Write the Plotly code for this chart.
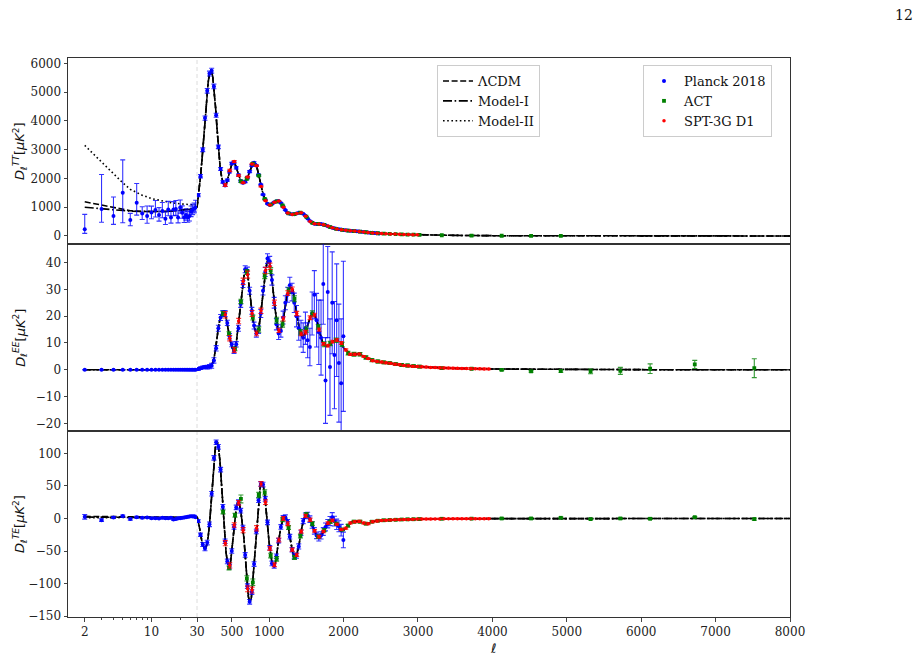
import plotly.graph_objects as go
from plotly.subplots import make_subplots

# ---------------- theory curves ----------------
ell_th_low = [2, 3, 4, 5, 6, 8, 10, 13, 16, 20, 25, 30]
tt_lcdm_low = [1190, 1075, 985, 930, 880, 850, 845, 850, 860, 885, 930, 990]
tt_model1_low = [1000, 960, 915, 885, 860, 848, 845, 850, 860, 885, 930, 990]
tt_model2_low = [3150, 2580, 2150, 1850, 1620, 1420, 1300, 1210, 1160, 1120, 1090, 1070]
ee_lcdm_low = [0.03, 0.035, 0.035, 0.03, 0.025, 0.02, 0.015, 0.01, 0.01, 0.015, 0.03, 0.05]
ee_model1_low = [0.03, 0.035, 0.035, 0.03, 0.025, 0.02, 0.015, 0.01, 0.01, 0.015, 0.03, 0.05]
ee_model2_low = [0.03, 0.035, 0.035, 0.03, 0.025, 0.02, 0.015, 0.01, 0.01, 0.015, 0.03, 0.05]
te_lcdm_low = [3.2, 3.0, 2.7, 2.4, 2.1, 1.6, 1.3, 1.2, 1.4, 1.9, 2.6, 2.5]
te_model1_low = [2.2, 2.3, 2.3, 2.2, 2.0, 1.6, 1.3, 1.2, 1.4, 1.9, 2.6, 2.5]
te_model2_low = [1.0, 1.4, 1.7, 1.8, 1.8, 1.6, 1.3, 1.2, 1.4, 1.9, 2.6, 2.5]

ell_th_high = [30, 40, 60, 80, 100, 120, 140, 160, 180, 200, 220, 240,
               260, 280, 300, 320, 340, 360, 380, 400, 420, 440,
               460, 480, 500, 520, 540, 560, 580, 600, 620, 640,
               660, 680, 700, 720, 740, 760, 780, 800, 820, 840,
               860, 880, 900, 920, 940, 960, 980, 1000,
               1040, 1080, 1120, 1160, 1200, 1240, 1280, 1320, 1360, 1400, 1440, 1480, 1520,
               1560, 1600, 1640, 1680, 1720, 1760, 1800, 1840, 1880, 1920, 1960, 2000,
               2100, 2200, 2300, 2400, 2500, 2600, 2800, 3000, 3250, 3500, 4000, 4500,
               5000, 6000, 7000, 8000]
tt_th_high = [990, 1200,
              1650, 2150, 2750, 3450, 4200, 4850, 5350, 5680, 5790, 5560,
              5100, 4450, 3700, 3000, 2420, 2060, 1850, 1760, 1790, 1960,
              2170, 2390, 2520, 2580, 2510, 2360, 2180, 2010, 1900, 1850,
              1855, 1900, 1980, 2110, 2270, 2420, 2520, 2560, 2500, 2340,
              2110, 1850, 1610, 1430, 1290, 1180, 1110, 1080,
              1110, 1190, 1225, 1150, 970, 820, 765, 752, 775, 805, 795, 720, 600,
              490, 435, 418, 420, 405, 370, 330, 292, 263, 242, 224, 210,
              182, 158, 130, 106, 90, 77, 56, 42, 30, 21, 11, 6.5,
              4, 1.8, 0.9, 0.5]
ee_th_high = [0.05, 0.2,
              0.45, 0.7, 0.9, 1.05, 1.15, 1.1, 1.05, 1.15, 1.5, 2.6,
              4.5, 8, 12.5, 16.3, 19, 20.6, 21.3, 21, 19.3, 16,
              13, 10.6, 8.3, 7.2, 7.6, 10.6, 15.5, 21, 26, 31,
              34.7, 37.2, 37.2, 33.5, 28.5, 23.5, 19, 16, 14, 13.2,
              15.5, 19.5, 24.5, 30, 35, 38.5, 40.8, 40.5,
              33, 22.5, 14.8, 14.5, 20.6, 27.8, 31, 29.7, 22.8, 16, 12.5, 13.2, 17,
              20.2, 21, 18.6, 13.8, 10, 8.7, 9.1, 10.3, 11, 11.1, 10.4, 8.2,
              5.6, 6, 4.6, 3.3, 2.9, 2.5, 1.7, 1.2, 0.8, 0.55, 0.3, 0.2,
              0.1, 0.05, 0.02, 0.01]
te_th_high = [2.5, -1,
              -12, -27, -38, -44, -46, -41, -28, -6, 25, 64,
              97, 114, 119, 108, 86, 52, 12, -25, -52, -68,
              -75, -68, -47, -22, 3, 19, 25, 22, 10, -6,
              -30, -60, -95, -120, -129, -122, -95, -66, -32, 2,
              32, 50, 56, 51, 36, 14, -10, -38,
              -70, -71, -40, -11, 3, -1, -30, -54, -60, -41, -13, 3, 5,
              -4, -17, -26, -29, -22, -12, -6, -3, -5, -11, -17, -18,
              -6, -4, -8.5, -4.5, -3, -2.5, -1.5, -1, -0.7, -0.5, -0.3, -0.2,
              -0.1, 0, 0, 0]

# ---------------- Planck 2018 ----------------
ell_planck_low = [2, 3, 4, 5, 6, 7, 8, 9, 10, 11, 12, 13, 14, 15, 16, 17, 18, 19, 20,
                  21, 22, 23, 24, 25, 26, 27, 28, 29]
tt_planck_low = [231, 936, 694, 1503, 555, 1156, 786, 694, 820, 902, 728, 867, 601, 925,
                 647, 925, 936, 647, 994, 809, 647, 728, 647, 694, 844, 902, 960, 994]
tt_planck_low_up = [520, 1200, 660, 1145, 230, 670, 230, 350, 220, 330, 260, 300, 240, 280,
                    250, 270, 300, 230, 260, 240, 220, 220, 210, 210, 200, 200, 190, 250]
tt_planck_low_dn = [140, 460, 290, 1040, 200, 430, 210, 250, 220, 240, 210, 230, 200, 220,
                    200, 220, 220, 190, 200, 190, 180, 180, 170, 170, 170, 160, 160, 160]
ee_planck_low = [0.04, 0.02, 0.01, 0.02, 0.03, 0.01, 0.02, 0.01, 0.0, 0.01, 0.02, 0.01, 0.0, 0.01,
                 0.02, 0.01, 0.02, 0.01, 0.0, 0.01, 0.02, 0.01, 0.02, 0.03, 0.02, 0.02, 0.03, 0.04]
ee_planck_low_err = [0.05, 0.04, 0.04, 0.04, 0.04, 0.04, 0.04, 0.04, 0.04, 0.04, 0.04, 0.04, 0.04, 0.04,
                     0.04, 0.04, 0.04, 0.04, 0.04, 0.04, 0.04, 0.04, 0.04, 0.04, 0.04, 0.04, 0.04, 0.04]
te_planck_low = [2.6, -2.6, 1.5, 3.6, -1.0, 2.0, 1.0, 1.5, 0.5, 0.5, 0.0, 1.0, 0.5, 0.5,
                 1.0, -1.5, -1.0, 0.5, 0.5, 1.0, 1.5, 2.0, 2.5, 3.0, 3.5, 3.0, 3.5, 2.0]
te_planck_low_err = [3.6, 2.0, 1.5, 1.5, 1.5, 1.5, 1.5, 1.2, 1.2, 1.2, 1.2, 1.2, 1.2, 1.2,
                     1.2, 1.2, 1.2, 1.2, 1.2, 1.2, 1.2, 1.2, 1.2, 1.2, 1.2, 1.2, 1.2, 1.2]

ell_planck = [47, 77, 107, 137, 167, 197, 227, 257, 287, 317, 347, 377, 407,
              437, 467, 497, 527, 557, 587, 617, 647, 677, 707, 737, 767, 797, 827, 857,
              887, 917, 947, 977, 1007,
              1037, 1067, 1097, 1127, 1157, 1187, 1217, 1247, 1277, 1307, 1337, 1367, 1397,
              1427, 1457, 1487, 1517, 1547, 1577, 1607,
              1637, 1667, 1697, 1727, 1757, 1787, 1817, 1847, 1877, 1907, 1937, 1967, 1997,
              2027, 2057, 2087, 2117, 2147, 2177, 2207, 2237, 2267, 2297, 2327, 2357, 2387,
              2417, 2447, 2477]
tt_planck = [1420, 2080, 3000, 4100, 5050, 5650, 5750, 5200, 4200, 3100, 2330, 1880, 1760,
             1940, 2230, 2520, 2560, 2370, 2120, 1910, 1850, 1890, 2030, 2240, 2450, 2550, 2450, 2130,
             1790, 1440, 1260, 1120, 1080,
             1110, 1170, 1210, 1215, 1150, 1020, 900, 800, 770, 755, 760, 780, 805,
             800, 770, 700, 610, 520, 465, 430,
             420, 420, 415, 400, 372, 340, 310, 287, 265, 248, 234, 222, 211,
             202, 194, 186, 178, 171, 164, 156, 148, 139, 131, 124, 116, 109,
             101, 95, 90]
tt_planck_err = [55, 60, 65, 75, 80, 85, 85, 80, 70, 60, 50, 42, 38,
                 36, 38, 40, 40, 38, 35, 33, 32, 33, 35, 35, 33, 30, 26, 22,
                 20, 18, 17, 16, 16,
                 16, 16, 16, 15, 14, 13, 12, 11, 11, 11, 11, 11, 10,
                 10, 9, 9, 8, 8, 8, 8,
                 8, 8, 8, 8, 7, 7, 7, 7, 7, 7, 7, 7, 7,
                 7, 7, 7, 7, 7, 7, 7, 7, 7, 7, 8, 8, 8,
                 8, 9, 9]
ell_planck_pol = ell_planck[:66]
ee_planck = [0.3, 0.6, 0.9, 1.0, 1.0, 1.2, 1.5, 3.5, 8, 15.5, 19.5, 21,
             21, 17.5, 12.5, 9.5, 7, 9.5, 15.5, 24.5, 32, 37.5, 37, 29.5, 22,
             16.5, 13.5, 15, 21, 29.5, 36.5, 41.5, 40.5, 33.5, 25, 17, 13.5, 14.5,
             19.5, 25, 28, 31.5, 29, 25, 20, 15.5, 13.5, 12, 15.5,
             11, 8.5, 21, 28, 18.5, 14, 12, 32, -4, 29, 1, 25, 5.5, 18.5, 2.5, -5, 12.5]
ee_planck_err = [0.5, 0.5, 0.5, 0.6, 0.7, 0.8, 0.9, 1.0, 1.0, 1.1, 1.1, 1.1,
                 1.1, 1.0, 1.0, 0.9, 0.9, 1.0, 1.1, 1.2, 1.3, 1.3, 1.3, 1.3, 1.3,
                 1.3, 1.3, 1.4, 1.5, 1.6, 1.7, 1.8, 1.8, 1.9, 2.0, 2.1, 2.2, 2.3,
                 2.4, 2.6, 2.8, 3.0, 3.3, 3.6, 4.0, 4.5, 5, 5.5, 6,
                 6.5, 7, 8, 9, 10, 12, 14, 15, 16, 17, 18, 19, 20, 21, 22, 24, 28]
te_planck = [-4, -25, -40, -46, -37, -9, 38, 93, 117, 110, 75, 18,
             -35, -66, -74, -50, -13, 17, 25, 12, -14, -56, -104, -128, -113,
             -70, -20, 28, 53, 52, 30, -6, -45, -69, -73, -58, -34, -13,
             1, 2, -5, -28, -48, -58, -57, -43, -22, -4, 4,
             5, -1, -10, -19, -26, -29, -26, -20, -13, -8, -4, 2, -4, -9, -12, -18, -33]
te_planck_err = [2, 2.5, 3, 3.5, 3.5, 3.5, 3.5, 3.5, 3.5, 3.5, 3.5, 3.5,
                 3.5, 3.5, 3.5, 3.5, 3.5, 3.5, 3.5, 3.5, 3.5, 3.5, 3.5, 3.5, 3.5,
                 3.5, 3.5, 3.5, 3.5, 3.5, 3.5, 3.5, 3.5, 3.5, 3.5, 3.5, 3.5, 3.5,
                 3.5, 3.5, 3.5, 3.5, 3.5, 4, 4, 4, 4, 4, 4.5,
                 4.5, 5, 5, 5, 5, 5.5, 5.5, 6, 6, 6.5, 7, 7, 7.5, 8, 8.5, 9, 12]

# ---------------- ACT ----------------
ell_act_tt = [620, 700, 780, 860, 940, 1020, 1100, 1180, 1260, 1340, 1420, 1500, 1580, 1660,
              1740, 1820, 1900, 1980, 2060, 2140, 2220, 2300, 2380, 2460, 2540, 2620, 2700,
              2780, 2860, 2940, 3020, 3320, 3720, 4125, 4520, 4920]
tt_act = [1900, 1990, 2520, 2100, 1290, 1090, 1200, 1060, 790, 760, 810, 670, 455, 420,
          385, 310, 250, 215, 190, 170, 152, 130, 110, 95, 85, 75, 66,
          58, 51, 45, 40, 26, 15, 9, 7, 4]
tt_act_err = [40, 35, 30, 28, 22, 18, 16, 14, 12, 11, 10, 9, 8, 8,
              7, 7, 6, 6, 6, 6, 6, 5, 5, 5, 5, 5, 5,
              5, 5, 5, 5, 5, 6, 7, 8, 9]
ell_act_pol = [380, 460, 540, 620, 700, 780, 860, 940, 1020, 1100, 1180, 1260, 1340, 1420,
               1500, 1580, 1660, 1740, 1820, 1900, 1980, 2060, 2140, 2220, 2300, 2380, 2460,
               2540, 2620, 2700, 2780, 2860, 2940, 3020,
               3320, 3720, 4125, 4520, 4920, 5320, 5720, 6120, 6720, 7520]
ee_act = [21, 13.5, 7.8, 25.5, 36.5, 19.5, 15, 35, 37, 18.5, 17, 29.5, 26.5, 14,
          15, 21, 16, 9.5, 9.8, 11, 9.5, 6.2, 5.8, 5.8, 4.6, 3.6, 3.1,
          2.8, 2.5, 2.1, 1.8, 1.6, 1.4, 1.2,
          0.6, 0.4, 0.0, -0.6, -0.5, -0.6, -0.4, 0.4, 2.0, 0.6]
ee_act_err = [0.8, 0.7, 0.7, 0.8, 0.9, 0.9, 1.0, 1.0, 1.1, 1.1, 1.1, 1.1, 1.1, 1.0,
              1.0, 1.0, 0.9, 0.9, 0.8, 0.8, 0.8, 0.7, 0.7, 0.6, 0.6, 0.6, 0.5,
              0.5, 0.5, 0.5, 0.5, 0.5, 0.5, 0.5,
              0.4, 0.4, 0.3, 0.3, 0.4, 0.9, 1.3, 1.8, 1.5, 3.5]
te_act = [10, -76, 5, 30, -92, -98, 36, 40, -57, -62, -2, -14, -60, -27,
          6, -8, -28, -18, -5, -8, -17, -11, -5, -5, -8, -5, -3.5,
          -2.8, -2.4, -2, -1.6, -1.4, -1.2, -1,
          -0.5, -0.3, 0, 0, 1, -1, 0, -0.5, 2, -1]
te_act_err = [3, 3, 3, 6, 4, 5, 4, 4, 3.5, 3.5, 3, 3, 3, 3,
              3, 3, 2.5, 2.5, 2.5, 2, 2, 2, 2, 2, 1.5, 1.5, 1.5,
              1.5, 1.5, 1.5, 1.5, 1.5, 1.5, 1.5,
              1, 1, 1, 1, 1, 1, 1, 1, 1, 1.5]

# ---------------- SPT-3G D1 ----------------
ell_spt_tt = [410, 470, 530, 590, 650, 710, 770, 830, 890, 950,
              1010, 1070, 1130, 1190, 1250, 1310, 1370, 1430, 1490, 1550,
              1610, 1670, 1730, 1790, 1850, 1910, 1970, 2030, 2090, 2150,
              2210, 2270, 2330, 2390, 2450, 2510, 2570, 2630, 2690, 2750,
              2810, 2870, 2930, 2990]
tt_spt = [1770, 2280, 2590, 2100, 1850, 2050, 2500, 2440, 1720, 1230,
          1080, 1170, 1215, 1000, 800, 750, 785, 805, 690, 500,
          428, 420, 395, 345, 285, 245, 220, 200, 183, 170,
          154, 138, 122, 107, 95, 87, 78, 72, 66, 60,
          54, 49, 44, 40]
tt_spt_err = [45, 40, 35, 30, 25, 22, 20, 18, 16, 14,
              12, 11, 10, 10, 9, 8, 8, 7, 7, 7,
              6, 6, 6, 6, 6, 5, 5, 5, 5, 5,
              5, 5, 5, 5, 5, 5, 5, 5, 5, 5,
              5, 5, 5, 5]
ell_spt_pol = [410, 470, 530, 590, 650, 710, 770, 830, 890, 950,
               1010, 1070, 1130, 1190, 1250, 1310, 1370, 1430, 1490, 1550,
               1610, 1670, 1730, 1790, 1850, 1910, 1970, 2030, 2090, 2150,
               2210, 2270, 2330, 2390, 2450, 2510, 2570, 2630, 2690, 2750,
               2810, 2870, 2930, 2990, 3050, 3110, 3170, 3230, 3290, 3350,
               3410, 3470, 3530, 3590, 3650, 3710, 3770, 3830, 3890, 3950]
ee_spt = [20.5, 11.8, 7.4, 18.2, 33, 35.5, 21, 13.6, 22, 37,
          38.6, 25, 14.7, 19, 28.6, 30, 21, 13.4, 14, 19.4,
          20.4, 15, 9.7, 9, 10.5, 11.1, 10, 7.4, 5.8, 5.8,
          5.9, 5, 4.2, 3.4, 3.1, 2.9, 2.6, 2.4, 2.1, 1.9,
          1.6, 1.5, 1.3, 1.2, 1.1, 1.0, 0.9, 0.85, 0.75, 0.7,
          0.65, 0.6, 0.55, 0.5, 0.46, 0.43, 0.4, 0.37, 0.34, 0.3]
ee_spt_err = [1.2, 1.0, 0.9, 1.0, 1.2, 1.3, 1.1, 0.9, 1.0, 1.2,
              1.2, 1.0, 0.8, 0.8, 0.9, 0.9, 0.8, 0.7, 0.7, 0.7,
              0.7, 0.6, 0.5, 0.5, 0.5, 0.5, 0.5, 0.4, 0.4, 0.4,
              0.3, 0.3, 0.3, 0.3, 0.3, 0.3, 0.3, 0.3, 0.3, 0.3,
              0.3, 0.3, 0.3, 0.3, 0.3, 0.3, 0.3, 0.3, 0.3, 0.3,
              0.3, 0.3, 0.3, 0.3, 0.3, 0.3, 0.3, 0.3, 0.3, 0.3]
te_spt = [-38, -72, -10, 24, -18, -108, -110, -15, 53, 25,
          -46, -71, -33, 0, -8, -48, -56, -20, 4, -2,
          -19, -28, -20, -7, -3, -9, -17, -15, -7, -5,
          -4.5, -7, -8, -5, -3.8, -3, -2.7, -2.4, -2.1, -1.8,
          -1.6, -1.4, -1.2, -1, -0.9, -0.8, -0.8, -0.7, -0.7, -0.6,
          -0.6, -0.5, -0.5, -0.5, -0.4, -0.4, -0.3, -0.3, -0.3, -0.3]
te_spt_err = [4, 4, 3.5, 3.5, 4, 4.5, 4.5, 4, 3.5, 3.5,
              3, 3, 3, 3, 3, 2.5, 2.5, 2.5, 2.5, 2.5,
              2, 2, 2, 2, 2, 1.5, 1.5, 1.5, 1.5, 1.5,
              1.5, 1.5, 1.5, 1.5, 1.5, 1, 1, 1, 1, 1,
              1, 1, 1, 1, 1, 1, 1, 1, 1, 1,
              1, 1, 1, 1, 1, 1, 1, 1, 1, 1]

# ---------------- axes / labels ----------------
x_log_ticks = [2, 10, 30]
x_lin_ticks = [500, 1000, 2000, 3000, 4000, 5000, 6000, 7000, 8000]
y_ticks = {
    "TT": [0, 1000, 2000, 3000, 4000, 5000, 6000],
    "EE": [-20, -10, 0, 10, 20, 30, 40],
    "TE": [-150, -100, -50, 0, 50, 100],
}
y_ranges = {"TT": [-290, 6190], "EE": [-22.7, 46.8], "TE": [-151.3, 134.8]}

# ---------------- figure ----------------
W0 = 0.1787
fig = make_subplots(rows=3, cols=2, shared_xaxes=True, shared_yaxes=True,
                    column_widths=[W0, 1 - W0], horizontal_spacing=0, vertical_spacing=0)

LINE_STYLES = {
    "lcdm": dict(color="black", width=1.6, dash="6px,2.6px"),
    "m1": dict(color="black", width=1.6, dash="9px,2.6px,1.6px,2.6px"),
    "m2": dict(color="black", width=1.6, dash="1.6px,2.6px"),
}
LINE_NAMES = {"lcdm": "ΛCDM", "m1": "Model-I", "m2": "Model-II"}

spectra = [
    ("TT", {"lcdm": tt_lcdm_low, "m1": tt_model1_low, "m2": tt_model2_low}, tt_th_high),
    ("EE", {"lcdm": ee_lcdm_low, "m1": ee_model1_low, "m2": ee_model2_low}, ee_th_high),
    ("TE", {"lcdm": te_lcdm_low, "m1": te_model1_low, "m2": te_model2_low}, te_th_high),
]

for r, (key, lows, high) in enumerate(spectra, start=1):
    for m in ["lcdm", "m1", "m2"]:
        fig.add_trace(go.Scatter(x=ell_th_low, y=lows[m], mode="lines", line=LINE_STYLES[m],
                                 name=LINE_NAMES[m], legend="legend",
                                 showlegend=(r == 1), hoverinfo="skip"), row=r, col=1)
        fig.add_trace(go.Scatter(x=ell_th_high, y=high, mode="lines", line=LINE_STYLES[m],
                                 showlegend=False, hoverinfo="skip"), row=r, col=2)

STY = {
    "planck": dict(color="#0000ff", err="rgba(0,0,255,0.8)", symbol="circle", size=4),
    "act": dict(color="#008000", err="rgba(0,128,0,0.8)", symbol="square", size=3.8),
    "spt": dict(color="#ff0000", err="rgba(255,0,0,0.8)", symbol="circle", size=3.5),
}


def add_data(x, y, ep, em, row, col, sty, name=None, show=False):
    s = STY[sty]
    err = dict(type="data", array=ep, color=s["err"], thickness=1.1, width=2.5)
    if em is not None:
        err["arrayminus"] = em
        err["symmetric"] = False
    fig.add_trace(go.Scatter(x=x, y=y, mode="markers",
                             marker=dict(color=s["color"], symbol=s["symbol"], size=s["size"], line=dict(width=0)),
                             error_y=err, name=name, showlegend=show, legend="legend2",
                             hoverinfo="skip"), row=row, col=col)


# TT
add_data(ell_planck_low, tt_planck_low, tt_planck_low_up, tt_planck_low_dn, 1, 1, "planck")
add_data(ell_planck, tt_planck, tt_planck_err, None, 1, 2, "planck", "Planck 2018", True)
add_data(ell_act_tt, tt_act, tt_act_err, None, 1, 2, "act", "ACT", True)
add_data(ell_spt_tt, tt_spt, tt_spt_err, None, 1, 2, "spt", "SPT-3G D1", True)
# EE
add_data(ell_planck_low, ee_planck_low, ee_planck_low_err, None, 2, 1, "planck")
add_data(ell_planck_pol, ee_planck, ee_planck_err, None, 2, 2, "planck")
add_data(ell_act_pol, ee_act, ee_act_err, None, 2, 2, "act")
add_data(ell_spt_pol, ee_spt, ee_spt_err, None, 2, 2, "spt")
# TE
add_data(ell_planck_low, te_planck_low, te_planck_low_err, None, 3, 1, "planck")
add_data(ell_planck_pol, te_planck, te_planck_err, None, 3, 2, "planck")
add_data(ell_act_pol, te_act, te_act_err, None, 3, 2, "act")
add_data(ell_spt_pol, te_spt, te_spt_err, None, 3, 2, "spt")

TICKFONT = dict(family="DejaVu Serif", size=12, color="#222")
FRAME = "#333333"

for r, (key, _, _) in enumerate(spectra, start=1):
    bottom = (r == 3)
    # log part
    fig.update_xaxes(type="log", range=[0.1258, 1.47712], showline=True, mirror=True,
                     linecolor=FRAME, linewidth=1, showgrid=False, zeroline=False,
                     ticks="outside" if bottom else "", ticklen=3.5, tickwidth=0.8,
                     tickvals=x_log_ticks, ticktext=[str(v) for v in x_log_ticks],
                     showticklabels=bottom, tickfont=TICKFONT,
                     minor=dict(ticks="outside" if bottom else "", ticklen=2, tickwidth=0.6,
                                tickvals=[3, 4, 5, 6, 7, 8, 9, 20], showgrid=False),
                     row=r, col=1)
    # linear part
    fig.update_xaxes(type="linear", range=[30, 8000], showline=True, mirror=True,
                     linecolor=FRAME, linewidth=1, showgrid=False, zeroline=False,
                     ticks="outside" if bottom else "", ticklen=3.5, tickwidth=0.8,
                     tickvals=x_lin_ticks, ticktext=[str(v) for v in x_lin_ticks],
                     showticklabels=bottom, tickfont=TICKFONT, row=r, col=2)
    fig.update_yaxes(range=y_ranges[key], showline=True, mirror=False, linecolor=FRAME,
                     linewidth=1, showgrid=False, zeroline=False, ticks="outside",
                     ticklen=3.5, tickwidth=0.8, tickvals=y_ticks[key], tickfont=TICKFONT,
                     row=r, col=1)
    fig.update_yaxes(range=y_ranges[key], showline=True, mirror=False, side="right",
                     linecolor=FRAME, linewidth=1, showgrid=False, zeroline=False,
                     ticks="", showticklabels=False, row=r, col=2)

# faint dashed divider between log and linear parts
fig.add_shape(type="line", xref="paper", yref="paper", x0=W0, x1=W0, y0=0, y1=1,
              line=dict(color="#dcdcdc", width=1, dash="4px,3px"), layer="below")

L, R, T, B = 68, 130, 58, 39
PH = 656 - T - B
PW = 920 - L - R

ylabels = [
    ("<i>D</i><sub><i>ℓ</i></sub><sup><i>TT</i></sup>[<i>μK</i><sup>2</sup>]", 151),
    ("<i>D</i><sub><i>ℓ</i></sub><sup><i>EE</i></sup>[<i>μK</i><sup>2</sup>]", 337.7),
    ("<i>D</i><sub><i>ℓ</i></sub><sup><i>TE</i></sup>[<i>μK</i><sup>2</sup>]", 524),
]
for txt, ypix in ylabels:
    fig.add_annotation(text=txt, xref="paper", yref="paper", x=(20 - L) / PW,
                       y=(656 - B - ypix) / PH, textangle=-90, showarrow=False,
                       xanchor="center", yanchor="middle",
                       font=dict(family="DejaVu Sans", size=13, color="#111"))

fig.add_annotation(text="<i>ℓ</i>", xref="paper", yref="paper", x=(493 - L) / PW,
                   y=(656 - B - 648) / PH, showarrow=False, xanchor="center", yanchor="middle",
                   font=dict(family="DejaVu Sans", size=13, color="#111"))
fig.add_annotation(text="12", xref="paper", yref="paper", x=(904 - L) / PW,
                   y=(656 - B - 15) / PH, showarrow=False, xanchor="center", yanchor="middle",
                   font=dict(family="DejaVu Serif", size=14, color="#111"))

LEG = dict(xanchor="left", yanchor="top", bordercolor="#cccccc", borderwidth=1,
           bgcolor="rgba(255,255,255,0.85)", font=dict(family="DejaVu Serif", size=13, color="#111"),
           itemwidth=30, tracegroupgap=0)
fig.update_layout(
    width=920, height=656,
    margin=dict(l=L, r=R, t=T, b=B),
    plot_bgcolor="white", paper_bgcolor="white",
    font=dict(family="DejaVu Serif", size=12, color="#111"),
    legend=dict(x=(437 - L) / PW, y=(656 - B - 65) / PH, **LEG),
    legend2=dict(x=(643 - L) / PW, y=(656 - B - 65) / PH, **LEG),
)

fig.write_html("out.html")
